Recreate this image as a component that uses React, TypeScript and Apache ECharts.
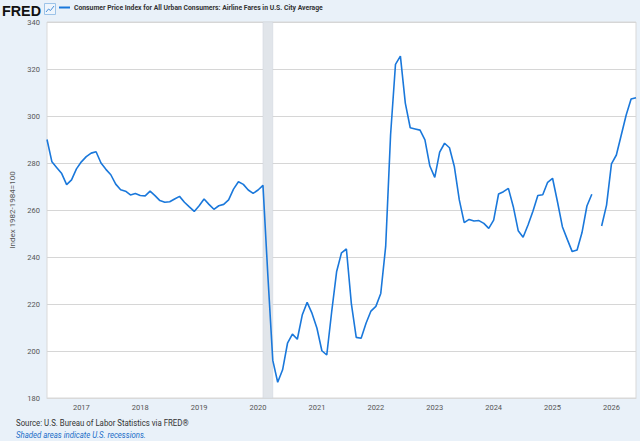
import React, { useEffect, useRef } from 'react';
import * as echarts from 'echarts';

// Monthly CPI: Airline Fares, starting 2016-06
const START_YEAR = 2016;
const START_MONTH = 6;
const values: (number | null)[] = [
  290, 280.5, 278, 275.5, 270.8, 272.8, 277.5, // 2016 Jun-Dec
  280.5, 282.7, 284.2, 284.8, 280, 277.3, 275, 271, 268.6, 268, 266.4, 267, // 2017
  266.2, 266, 268, 266.1, 264, 263.3, 263.5, 264.7, 265.8, 263.3, 261.3, 259.4, // 2018
  261.8, 264.7, 262.4, 260.3, 261.8, 262.4, 264.3, 268.9, 272, 270.9, 268.5, 267.1, // 2019
  268.5, 270.5, 232, 196, 186.7, 192, 203.3, 207.2, 205, 215.3, 220.7, 216, // 2020
  209.7, 200.1, 198.3, 216.7, 233.7, 241.8, 243.4, 220.3, 205.8, 205.4, 211.8, 217, // 2021
  219, 224.5, 244.5, 292, 322, 325.5, 305.5, 295, 294.5, 294, 289.8, 278.7, // 2022
  273.9, 284.6, 288.4, 286.5, 278.4, 264.3, 254.6, 256, 255.3, 255.5, 254.3, 252.2, // 2023
  255.7, 266.8, 267.8, 269.2, 261.4, 251.2, 248.4, 253.6, 259.5, 266.2, 266.5, 271.8, // 2024
  273.5, 263.5, 252.9, 247.5, 242.3, 243, 250.4, 261.7, 266.7, null, 253.2, 262.1, // 2025
  279.6, 283.4, 291.9, 300.4, 307.2, 307.8, // 2026 Jan-Jun
];
const months: string[] = values.map((_, i) => {
  const m = START_MONTH - 1 + i;
  const y = START_YEAR + Math.floor(m / 12);
  const mm = (m % 12) + 1;
  return `${y}-${String(mm).padStart(2, '0')}`;
});
const recession: [string, string] = ['2020-02', '2020-04'];
const Y_MIN = 180;
const Y_MAX = 340;
const Y_STEP = 20;

const TITLE = 'Consumer Price Index for All Urban Consumers: Airline Fares in U.S. City Average';
const Y_NAME = 'Index 1982-1984=100';
const SOURCE = 'Source: U.S. Bureau of Labor Statistics via FRED®';
const NOTE = 'Shaded areas indicate U.S. recessions.';

const LINE_COLOR = '#1a78db';

function measure(text: string, font: string): number {
  const ctx = document.createElement('canvas').getContext('2d');
  if (!ctx) return 1;
  ctx.font = font;
  return ctx.measureText(text).width || 1;
}

function fitText(text: string, x: number, y: number, width: number, opts: { size: number; weight?: string; style?: string; family: string; fill: string }) {
  const font = `${opts.style || 'normal'} ${opts.weight || 'normal'} ${opts.size}px ${opts.family}`;
  const w = measure(text, font);
  return {
    type: 'text',
    x,
    y,
    scaleX: width / w,
    silent: true,
    style: {
      text,
      fontSize: opts.size,
      fontFamily: opts.family,
      fontWeight: opts.weight || 'normal',
      fontStyle: opts.style || 'normal',
      fill: opts.fill,
      verticalAlign: 'middle',
      align: 'left',
    },
  };
}

export default function App() {
  const ref = useRef<HTMLDivElement>(null);
  useEffect(() => {
    if (!ref.current) return;
    const chart = echarts.init(ref.current, undefined, { renderer: 'svg' });
    chart.setOption({
      animation: false,
      backgroundColor: '#e9f1f9',
      grid: {
        left: 43,
        right: 4,
        top: 22,
        bottom: 43,
        show: true,
        backgroundColor: '#ffffff',
        borderColor: '#d9d9d9',
        borderWidth: 1,
      },
      xAxis: {
        type: 'category',
        data: months,
        boundaryGap: false,
        axisLine: { show: true, lineStyle: { color: '#d9d9d9' } },
        axisTick: { show: false },
        splitLine: { show: false },
        axisLabel: {
          interval: (_i: number, v: string) => v.endsWith('-01'),
          formatter: (v: string) => v.slice(0, 4),
          color: '#555',
          fontSize: 7.5,
          fontFamily: 'Roboto',
          margin: 5,
        },
      },
      yAxis: {
        type: 'value',
        min: Y_MIN,
        max: Y_MAX,
        interval: Y_STEP,
        name: Y_NAME,
        nameLocation: 'middle',
        nameRotate: 90,
        nameGap: 31,
        nameTextStyle: { color: '#555', fontSize: 8, fontFamily: 'Roboto' },
        axisLine: { show: false },
        axisTick: { show: false },
        splitLine: { show: true, lineStyle: { color: '#d6d6d6', width: 1 } },
        axisLabel: { color: '#555', fontSize: 7.5, fontFamily: 'Roboto', margin: 7 },
      },
      series: [
        {
          type: 'line',
          data: values,
          showSymbol: false,
          connectNulls: false,
          lineStyle: { color: LINE_COLOR, width: 1.6 },
          itemStyle: { color: LINE_COLOR },
          markArea: {
            silent: true,
            itemStyle: { color: '#e1e5ea', borderColor: '#cfd5dc', borderWidth: 0.5 },
            data: [[{ xAxis: recession[0] }, { xAxis: recession[1] }]],
          },
          z: 3,
        },
      ],
      graphic: [
        fitText('FRED', 2, 11, 39, { size: 15, weight: 'bold', family: 'Liberation Sans', fill: '#111' }),
        {
          type: 'rect',
          shape: { x: 44.5, y: 3.5, width: 11, height: 11 },
          style: { fill: '#eef5fc', stroke: '#9cc3e8', lineWidth: 1 },
        },
        {
          type: 'polyline',
          shape: { points: [[46, 12], [48.5, 9], [50.5, 10.5], [54, 6]] },
          style: { stroke: '#4a90d9', lineWidth: 1, fill: null },
        },
        {
          type: 'line',
          shape: { x1: 59, y1: 7.5, x2: 70, y2: 7.5 },
          style: { stroke: LINE_COLOR, lineWidth: 2 },
        },
        fitText(TITLE, 74, 7.5, 249, { size: 8, weight: 'bold', family: 'Roboto', fill: '#333' }),
        fitText(SOURCE, 16, 423, 173, { size: 8.5, family: 'Roboto', fill: '#333' }),
        fitText(NOTE, 16, 435, 130, { size: 8.5, style: 'italic', family: 'Roboto', fill: '#1a6dc8' }),
      ],
    });
    return () => chart.dispose();
  }, []);
  return (
    <div
      ref={ref}
      style={{ position: 'fixed', left: 0, top: 0, width: 640, height: 441 }}
    />
  );
}
